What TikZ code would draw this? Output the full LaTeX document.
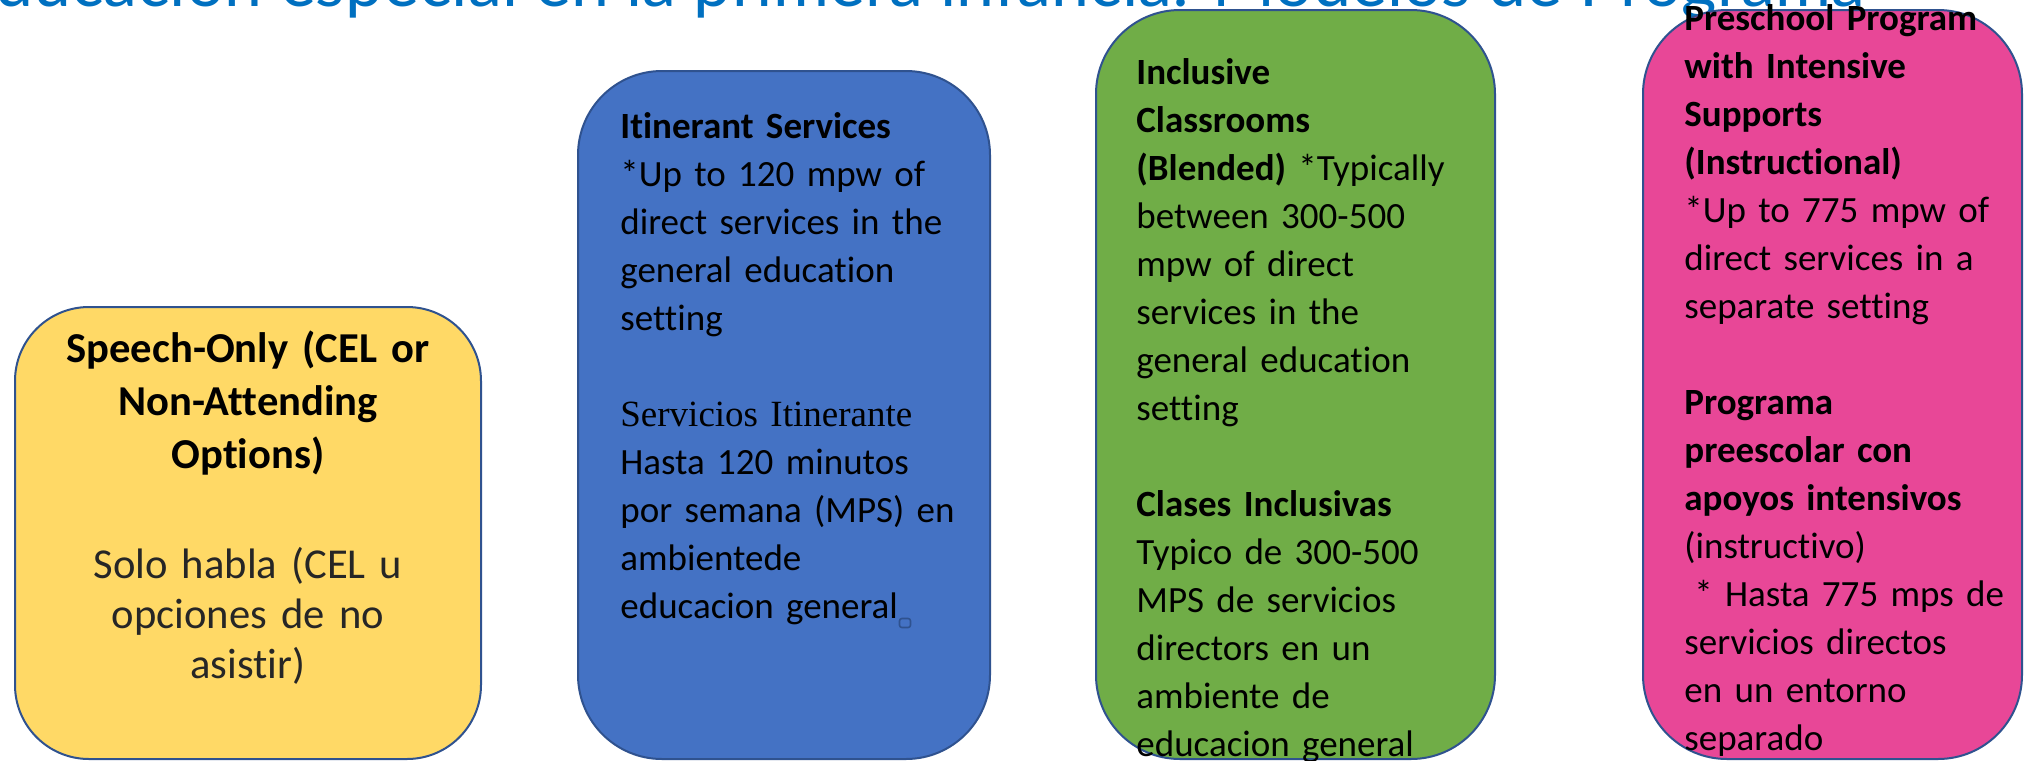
\documentclass[tikz,border=0pt]{standalone}
\usepackage{fontspec}
\setmainfont{Carlito}[Ligatures=CommonOff]
\newfontfamily\titulofont{Lato}
\newfontfamily\seriffont{Liberation Serif}
\usepackage{tikz}

\definecolor{titulo}{HTML}{0070C0}
\definecolor{borde}{HTML}{2F528F}
\definecolor{amarillo}{HTML}{FFD966}
\definecolor{azul}{HTML}{4472C4}
\definecolor{verde}{HTML}{70AD47}
\definecolor{rosa}{HTML}{E84797}
\definecolor{grisoscuro}{HTML}{262626}

\begin{document}
\begin{tikzpicture}[x=0.5pt, y=-0.5pt,
		caja/.style={draw=borde, line width=1pt, rounded corners=42pt, inner sep=0pt},
		texto/.style={anchor=base west, inner sep=0pt, text width=200pt, align=left,
			font=\fontsize{18.5}{24}\selectfont},
		textoc/.style={anchor=base, inner sep=0pt, text width=230pt, align=center}]
		
		% 1. Marco de la diapositiva (2026 x 761)
		\useasboundingbox (0,0) rectangle (2026,761);
		\clip (0,0) rectangle (2026,761);
		
		% 2. Titulo (cortado arriba)
		\node[anchor=base east, inner sep=0pt, text=titulo,
		font=\titulofont\fontsize{34}{40}\selectfont] (titulo) at (1865,6)
		{Educación especial en la primera infancia: Modelos de Programa};
		
		% 3. Cajas de los modelos
		\node[caja, fill=amarillo, rounded corners=37pt, minimum width=233pt, minimum height=226pt] (habla) at (248,533) {};
		\node[caja, fill=azul, minimum width=206pt, minimum height=344pt] (itinerante) at (784,415) {};
		\node[caja, fill=verde, minimum width=199.5pt, minimum height=374.5pt] (inclusiva) at (1295.5,384.5) {};
		\node[caja, fill=rosa, minimum width=189.5pt, minimum height=374.5pt] (intensivo) at (1832.5,384.5) {};
		
		% 4. Textos
		\node[textoc, font=\bfseries\fontsize{21.3}{26.5}\selectfont] (hablaen) at (248,362)
		{Speech-Only (CEL or\\ Non-Attending\\ Options)};
		\node[textoc, text=grisoscuro, font=\fontsize{21.3}{25}\selectfont] (hablaes) at (248,578)
		{Solo habla (CEL u\\ opciones de no\\ asistir)};
		
		\node[texto] (itinerantetxt) at (620,138)
		{\textbf{Itinerant Services}\\ {*}Up to 120 mpw of\\ direct services in the\\ general education\\ setting\\[24pt]
			{\seriffont Servicios Itinerante}\\ Hasta 120 minutos\\ por semana (MPS) en\\ ambientede\\ educacion general};
		\node[draw=borde, line width=0.8pt, rounded corners=1.2pt, minimum width=5.5pt, minimum height=4.5pt,
		inner sep=0pt] (marca) at (905,623) {};
		
		\node[texto] (inclusivatxt) at (1136,84)
		{\textbf{Inclusive}\\ \textbf{Classrooms}\\ \textbf{(Blended)} *Typically\\ between 300-500\\ mpw of direct\\
			services in the\\ general education\\ setting\\[24pt]
			\textbf{Clases Inclusivas}\\ Typico de 300-500\\ MPS de servicios\\ directors en un\\ ambiente de\\ educacion general};
		
		\node[texto] (intensivotxt) at (1684,30)
		{\textbf{Preschool Program}\\ \textbf{with Intensive}\\ \textbf{Supports}\\ \textbf{(Instructional)}\\
			{*}Up to 775 mpw of\\ direct services in a\\ separate setting\\[24pt]
			\textbf{Programa}\\ \textbf{preescolar con}\\ \textbf{apoyos intensivos}\\ (instructivo)\\
			\hspace*{5pt}{*} Hasta 775 mps de\\ servicios directos\\ en un entorno\\ separado};
		
	\end{tikzpicture}
\end{document}
